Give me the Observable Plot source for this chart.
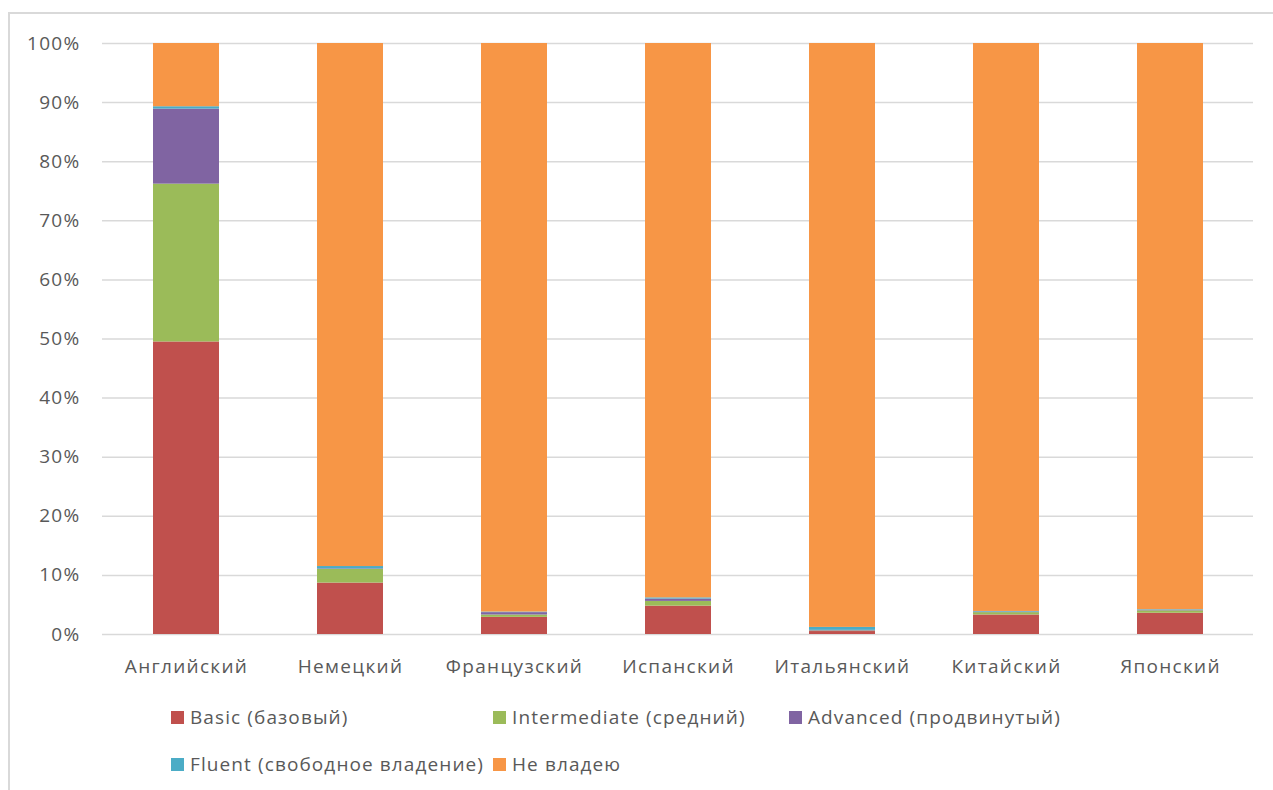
<!DOCTYPE html>
<html>
<head>
<meta charset="utf-8">
<script src="https://cdn.jsdelivr.net/npm/d3@7"></script>
<script src="https://cdn.jsdelivr.net/npm/@observablehq/plot@0.6"></script>
<style>
  html, body { margin: 0; padding: 0; background: #fff; width: 1273px; height: 790px; overflow: hidden; }
  #frame { position: absolute; left: 8px; top: 12px; width: 1300px; height: 820px; border: 2px solid #d9d9d9; box-sizing: border-box; }
  #chart { position: absolute; left: 0; top: 0; }
  #chart svg text { letter-spacing: 1.3px; }
  #legend { position: absolute; left: 0; top: 0; font-family: "Open Sans", sans-serif; font-size: 19px; letter-spacing: 1.1px; color: #595959; }
  .li { position: absolute; display: flex; align-items: center; white-space: nowrap; }
  .sw { width: 13px; height: 13px; margin-right: 6px; }
</style>
</head>
<body>
<div id="frame"></div>
<div id="chart"></div>
<div id="legend"></div>
<script>
const languages = ["Английский", "Немецкий", "Французский", "Испанский", "Итальянский", "Китайский", "Японский"];
const levels = ["Basic (базовый)", "Intermediate (средний)", "Advanced (продвинутый)", "Fluent (свободное владение)", "Не владею"];
const colors = ["#C0504D", "#9BBB59", "#8064A2", "#4BACC6", "#F79646"];

const basic        = [49.5, 8.7, 2.9, 4.8, 0.5, 3.3, 3.6];
const intermediate = [26.7, 2.3, 0.4, 0.8, 0.1, 0.4, 0.4];
const advanced     = [12.7, 0.1, 0.4, 0.4, 0.1, 0.1, 0.1];
const fluent       = [0.4, 0.4, 0.1, 0.2, 0.5, 0.1, 0.1];
const none         = [10.7, 88.5, 96.2, 93.8, 98.8, 96.1, 95.8];

const yTicks = [0, 10, 20, 30, 40, 50, 60, 70, 80, 90, 100];

const series = [basic, intermediate, advanced, fluent, none];
const data = [];
languages.forEach((lang, i) => {
  series.forEach((s, k) => data.push({language: lang, level: levels[k], value: s[i]}));
});

const chart = Plot.plot({
  width: 1273,
  height: 690,
  marginLeft: 102,
  marginRight: 20,
  marginTop: 43,
  marginBottom: 56,
  style: { fontFamily: "'Open Sans', sans-serif", fontSize: "19px", color: "#595959", background: "transparent" },
  x: { domain: languages, paddingInner: 0.6, paddingOuter: 0.3, label: null },
  y: { domain: [0, 100], ticks: yTicks, tickFormat: d => d + "%", label: null },
  color: { domain: levels, range: colors },
  marks: [
    Plot.ruleY(yTicks, { stroke: "#d9d9d9", strokeWidth: 1.5 }),
    Plot.barY(data, { x: "language", y: "value", fill: "level", insetTop: 0, insetBottom: 0 }),
    Plot.axisX({ tickSize: 0, tickPadding: 25, fill: "#595959", fontSize: 19 }),
    Plot.axisY(yTicks, { tickSize: 0, tickPadding: 22, tickFormat: d => d + "%", fill: "#595959", fontSize: 19 })
  ]
});
document.getElementById("chart").appendChild(chart);

const legendPos = [[171, 718], [493, 718], [789, 718], [171, 765], [493, 765]];
const legend = document.getElementById("legend");
levels.forEach((lv, k) => {
  const d = document.createElement("div");
  d.className = "li";
  d.style.left = legendPos[k][0] + "px";
  d.style.top = (legendPos[k][1] - 14) + "px";
  d.innerHTML = `<div class="sw" style="background:${colors[k]}"></div><span>${lv}</span>`;
  legend.appendChild(d);
});
</script>
</body>
</html>
